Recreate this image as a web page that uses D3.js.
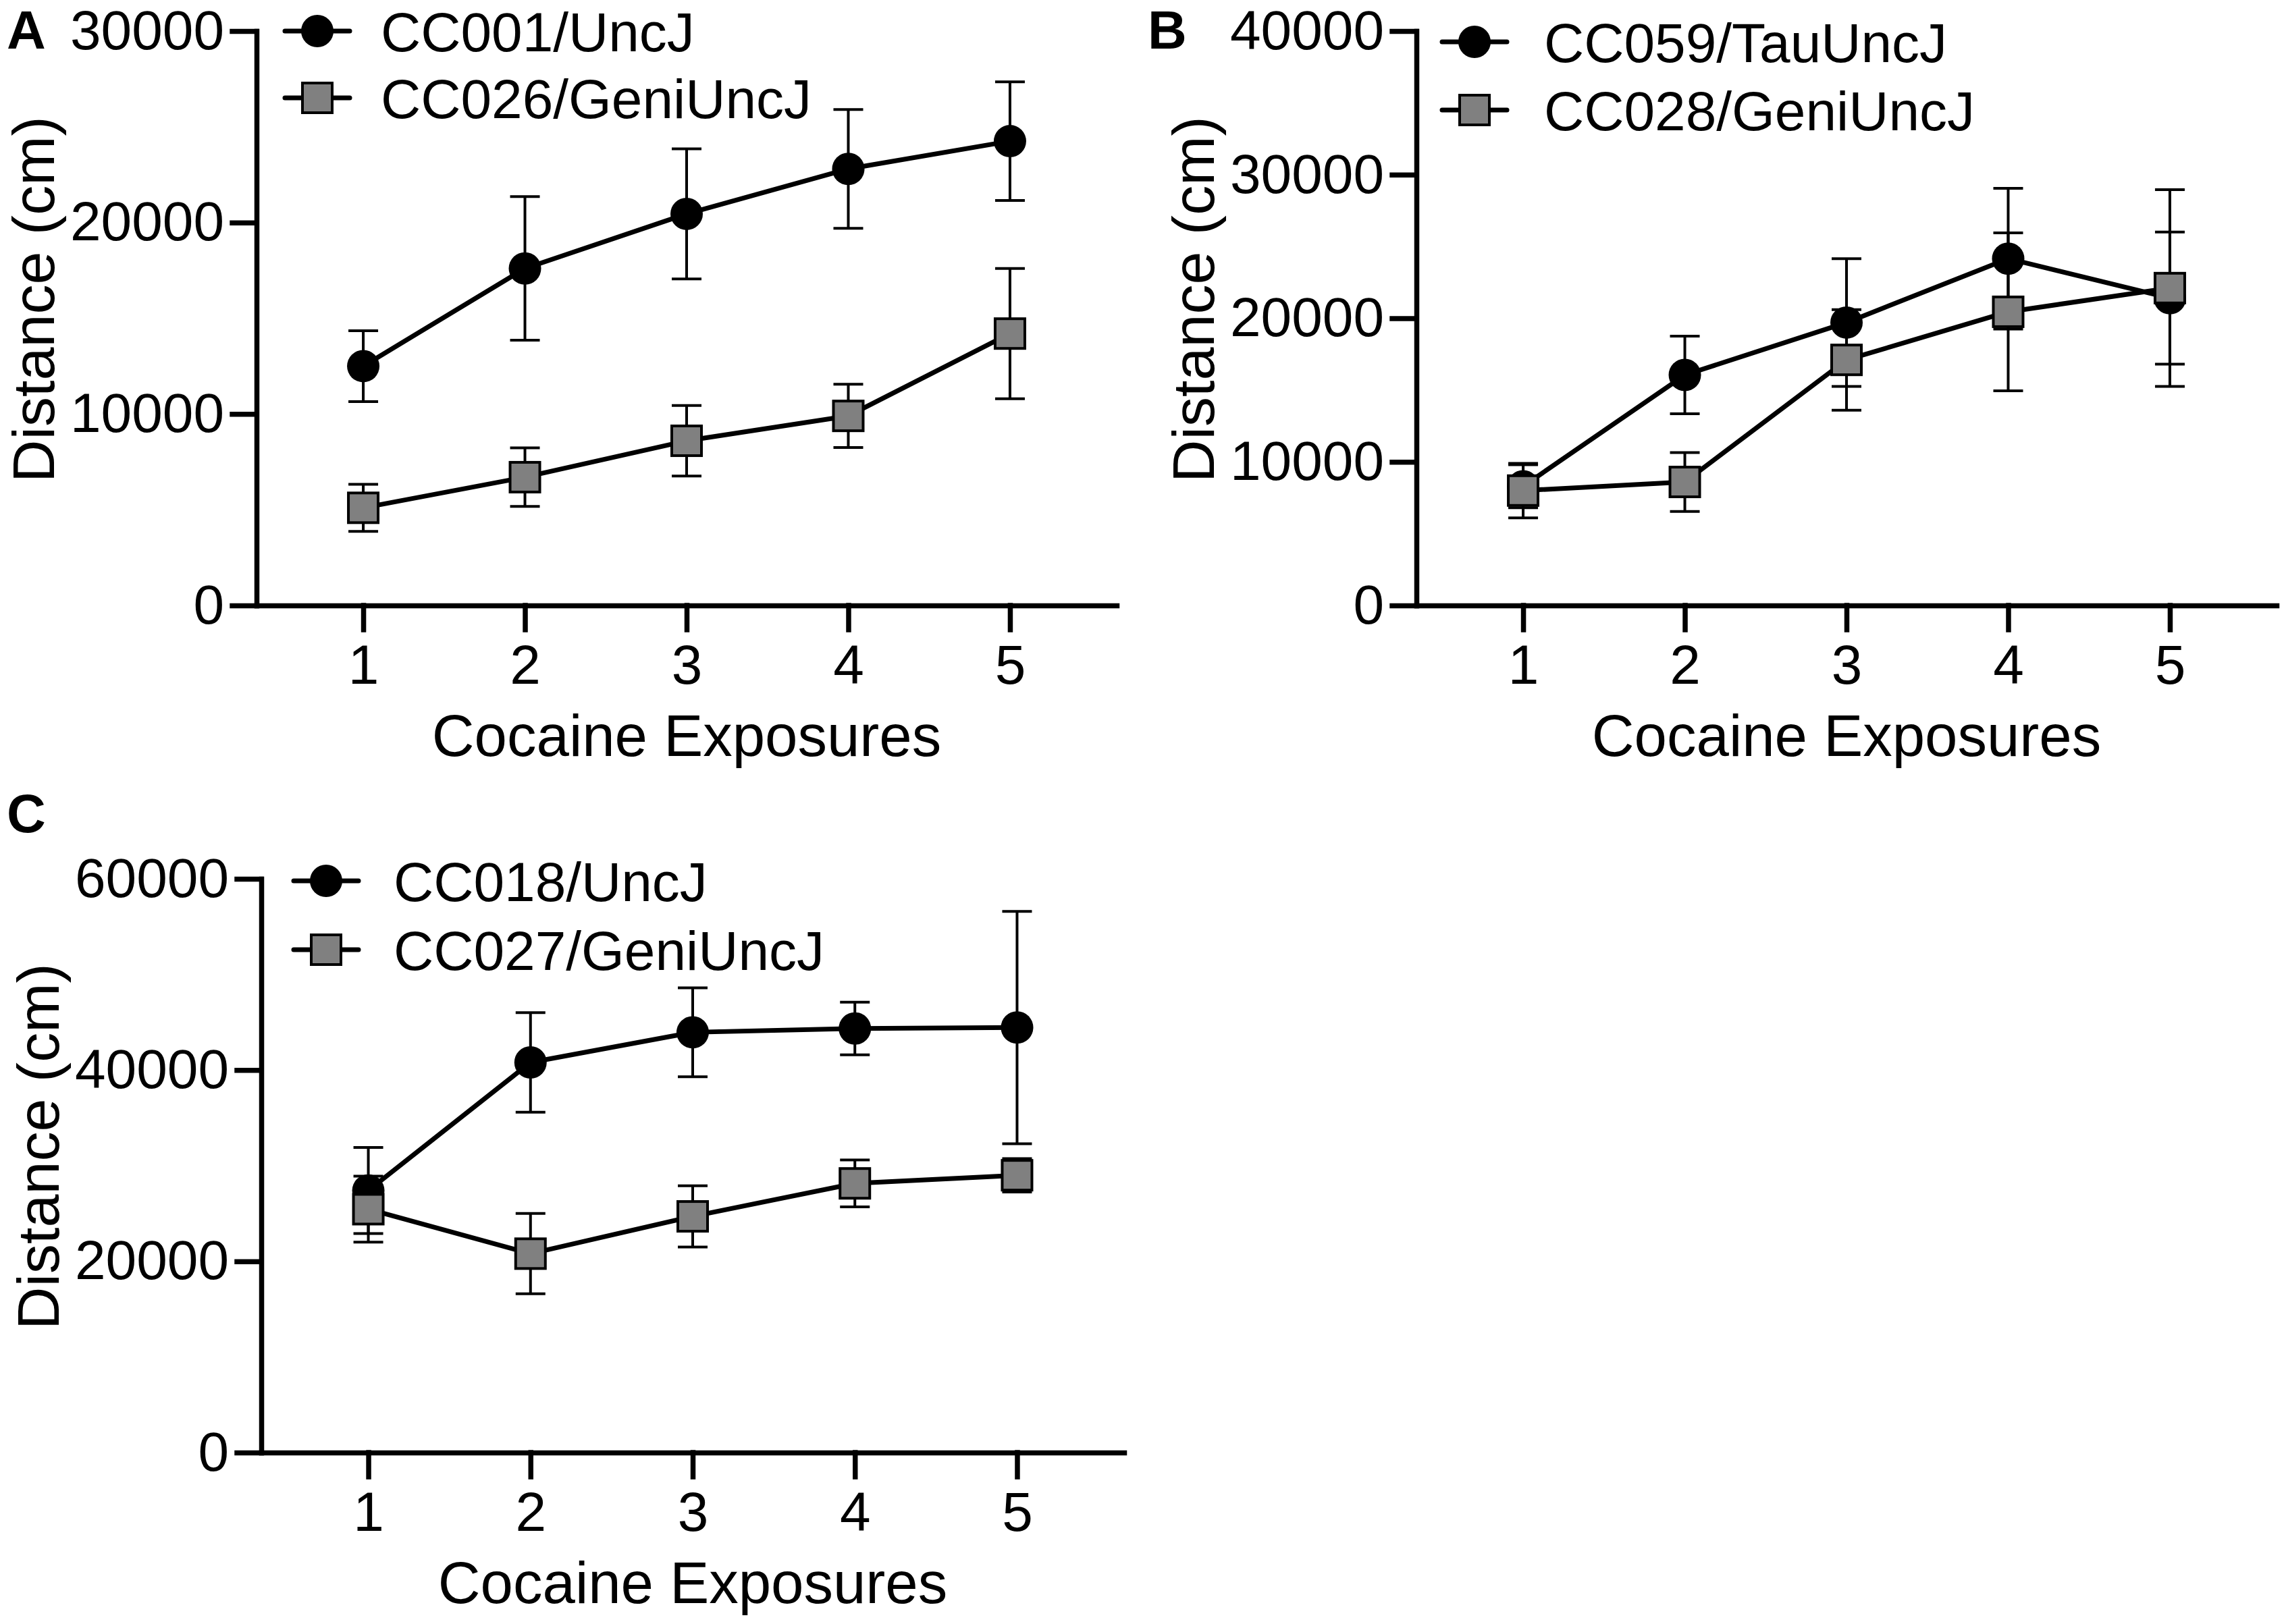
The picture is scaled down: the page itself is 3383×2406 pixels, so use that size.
<!DOCTYPE html>
<html>
<head>
<meta charset="utf-8">
<script src="https://cdn.jsdelivr.net/npm/d3@7"></script>
<style>
  body { margin: 0; background: #fff; }
  text { font-family: "Liberation Sans", Arial, sans-serif; fill: #000; }
</style>
</head>
<body>
<svg id="chart" width="3383" height="2406"></svg>
<script>
// x categories
var exposures = [1, 2, 3, 4, 5];

// panel A
var namesA = ['CC001/UncJ', 'CC026/GeniUncJ'];
var meanA1 = [12500, 17600, 20450, 22800, 24250];
var errA1  = [1850, 3750, 3400, 3100, 3100];
var meanA2 = [5100, 6700, 8600, 9900, 14200];
var errA2  = [1230, 1530, 1840, 1650, 3400];
var ticksA = [0, 10000, 20000, 30000];

// panel B
var namesB = ['CC059/TauUncJ', 'CC028/GeniUncJ'];
var meanB1 = [8300, 16050, 19700, 24150, 21400];
var errB1  = [1500, 2700, 4450, 4900, 4600];
var meanB2 = [8000, 8600, 17100, 20450, 22100];
var errB2  = [1900, 2050, 3500, 5500, 6850];
var ticksB = [0, 10000, 20000, 30000, 40000];

// panel C
var namesC = ['CC018/UncJ', 'CC027/GeniUncJ'];
var meanC1 = [27400, 40800, 43950, 44350, 44450];
var errC1  = [4500, 5200, 4650, 2750, 12150];
var meanC2 = [25450, 20800, 24700, 28150, 29000];
var errC2  = [3450, 4200, 3200, 2450, 1750];
var ticksC = [0, 20000, 40000, 60000];

var svg = d3.select('#chart');
svg.append('rect').attr('width', 3383).attr('height', 2406).attr('fill', '#fff');

var panels = [
    {letter: 'A', lx: 10, ly: 72, left: 380, right: 1654, top: 46, bottom: 897,
     names: namesA, means: [meanA1, meanA2], errs: [errA1, errA2], ticks: ticksA,
     legY: [46, 145], legSym: 90, legText: 184},
    {letter: 'B', lx: 1700, ly: 72, left: 2098, right: 3372, top: 46, bottom: 897,
     names: namesB, means: [meanB1, meanB2], errs: [errB1, errB2], ticks: ticksB,
     legY: [62, 163], legSym: 86, legText: 189},
    {letter: 'C', lx: 10, ly: 1233, left: 387, right: 1665, top: 1302, bottom: 2152,
     names: namesC, means: [meanC1, meanC2], errs: [errC1, errC2], ticks: ticksC,
     legY: [1305, 1407], legSym: 96, legText: 196}
];

panels.forEach(drawPanel);

function drawMarker(g, kind, cx, cy) {
    if (kind === 0) {
        g.append('circle')
            .attr('cx', cx).attr('cy', cy).attr('r', 24)
            .attr('fill', '#000');
    } else {
        g.append('rect')
            .attr('x', cx - 22).attr('y', cy - 22)
            .attr('width', 44).attr('height', 44)
            .attr('fill', '#808080')
            .attr('stroke', '#000').attr('stroke-width', 4);
    }
}

function drawPanel(p) {
    var g = svg.append('g');

    var x = d3.scaleLinear().domain([0.34, 5.66]).range([p.left, p.right]);
    var y = d3.scaleLinear()
        .domain([0, p.ticks[p.ticks.length - 1]])
        .range([p.bottom, p.top]);

    // axes
    var xAxis = g.append('g')
        .attr('transform', 'translate(0,' + p.bottom + ')')
        .call(d3.axisBottom(x).tickValues(exposures).tickFormat(d3.format('d'))
            .tickSize(36).tickSizeOuter(0).tickPadding(22));
    var yAxis = g.append('g')
        .attr('transform', 'translate(' + p.left + ',0)')
        .call(d3.axisLeft(y).tickValues(p.ticks).tickFormat(d3.format('d'))
            .tickSize(36).tickSizeOuter(0).tickPadding(12));

    [xAxis, yAxis].forEach(function(a) {
        a.selectAll('path, line').attr('stroke', '#000').attr('stroke-width', 7.5)
            .attr('stroke-linecap', 'square');
        a.selectAll('text').attr('font-size', 82)
            .style('font-family', '"Liberation Sans", Arial, sans-serif');
    });

    // titles
    g.append('text')
        .attr('transform', 'translate(' + (p.left - 300) + ',' + (p.bottom - 182) + ') rotate(-90)')
        .attr('text-anchor', 'start')
        .attr('font-size', 88)
        .text('Distance (cm)');
    g.append('text')
        .attr('x', (p.left + p.right) / 2)
        .attr('y', p.bottom + 223)
        .attr('text-anchor', 'middle')
        .attr('font-size', 87)
        .text('Cocaine Exposures');
    g.append('text')
        .attr('x', p.lx).attr('y', p.ly)
        .attr('font-size', 80).attr('font-weight', 'bold')
        .text(p.letter);

    // series
    var line = d3.line()
        .x(function(d, i) { return x(exposures[i]); })
        .y(function(d) { return y(d); });

    p.means.forEach(function(means, s) {
        var errs = p.errs[s];
        var sg = g.append('g');
        sg.append('path')
            .attr('d', line(means))
            .attr('fill', 'none')
            .attr('stroke', '#000')
            .attr('stroke-width', 7)
            .attr('stroke-linejoin', 'round');

        means.forEach(function(m, i) {
            var cx = x(exposures[i]);
            var y0 = y(m - errs[i]), y1 = y(m + errs[i]);
            sg.append('line').attr('x1', cx).attr('x2', cx).attr('y1', y0).attr('y2', y1)
                .attr('stroke', '#000').attr('stroke-width', 4);
            [y0, y1].forEach(function(yy) {
                sg.append('line').attr('x1', cx - 22).attr('x2', cx + 22)
                    .attr('y1', yy).attr('y2', yy)
                    .attr('stroke', '#000').attr('stroke-width', 4);
            });
        });
        means.forEach(function(m, i) {
            drawMarker(sg, s, x(exposures[i]), y(m));
        });
    });

    // legend
    p.names.forEach(function(name, s) {
        var ly = p.legY[s];
        var sx = p.left + p.legSym;
        g.append('line')
            .attr('x1', sx - 48).attr('x2', sx + 48)
            .attr('y1', ly).attr('y2', ly)
            .attr('stroke', '#000').attr('stroke-width', 7)
            .attr('stroke-linecap', 'round');
        drawMarker(g, s, sx, ly);
        g.append('text')
            .attr('x', p.left + p.legText)
            .attr('y', ly)
            .attr('dy', '0.36em')
            .attr('font-size', 82)
            .text(name);
    });
}
</script>
</body>
</html>
